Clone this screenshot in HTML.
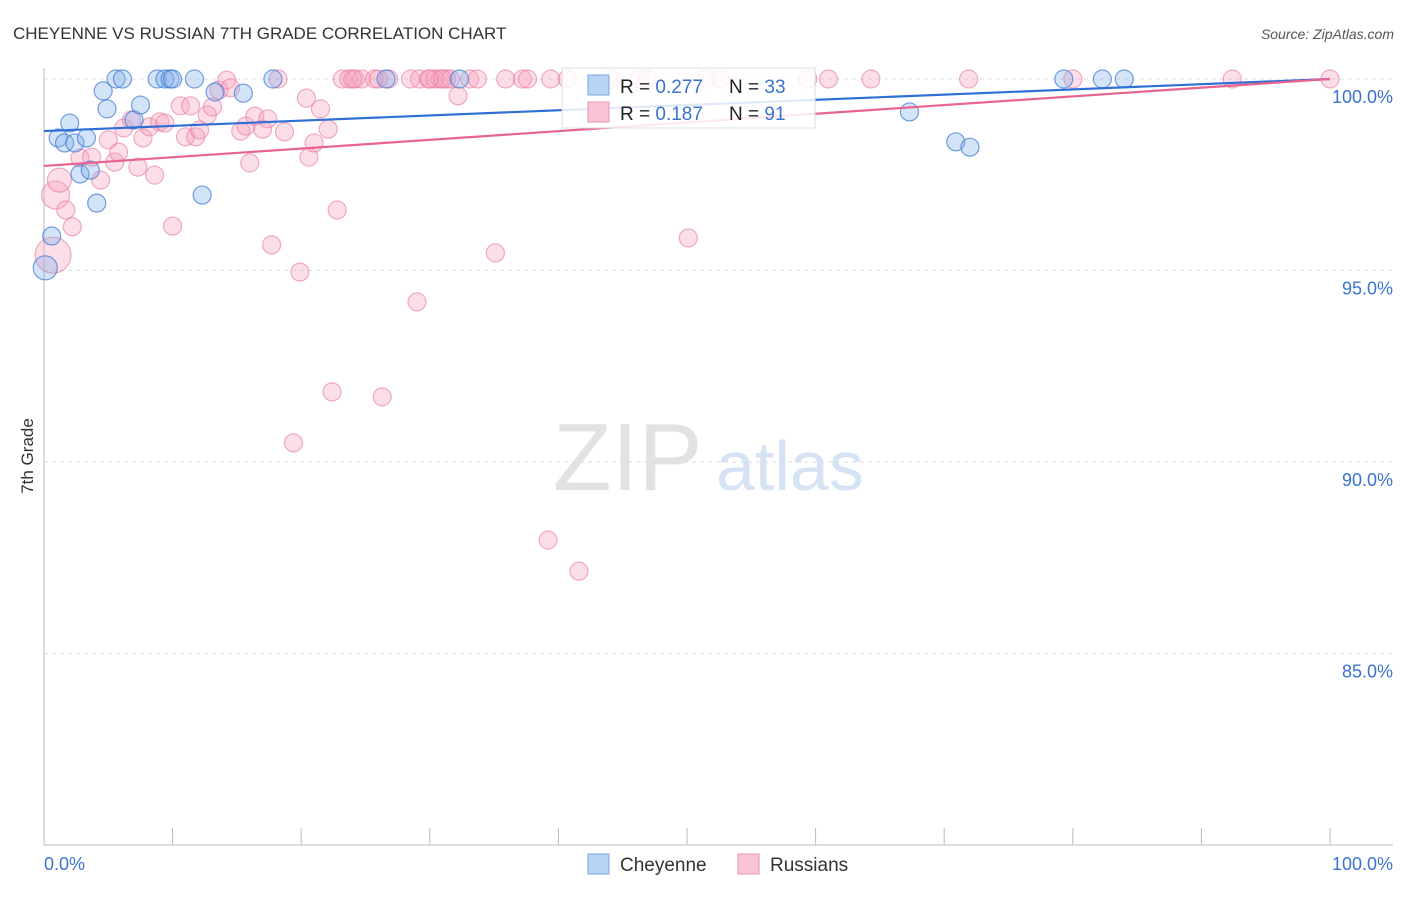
<!DOCTYPE html>
<html><head><meta charset="utf-8"><style>
body{margin:0;background:#fff;font-family:"Liberation Sans",sans-serif}
svg text{font-family:"Liberation Sans",sans-serif}
</style></head><body>
<svg id="c" width="1406" height="892" xmlns="http://www.w3.org/2000/svg">
<text x="13" y="39" font-size="17" fill="#333">CHEYENNE VS RUSSIAN 7TH GRADE CORRELATION CHART</text>
<text x="1394" y="39" font-size="14" fill="#555" text-anchor="end" font-style="italic">Source: ZipAtlas.com</text>
<text transform="translate(33,456) rotate(-90)" font-size="17" fill="#333" text-anchor="middle">7th Grade</text>
<text x="553" y="490" font-size="96" fill="#e2e2e2" font-family="Liberation Serif">ZIP</text>
<text x="716" y="490" font-size="70" fill="#d5e3f5">atlas</text>
<g id="grid"></g><g id="pts"></g><g id="lines"></g>
<g>
<rect x="562" y="68" width="253" height="60" fill="#fff" fill-opacity="0.85" stroke="#ddd"/>
<rect x="588" y="75" width="21" height="20" fill="#b8d3f5" stroke="#7aa7e0"/>
<text x="620" y="93" font-size="19" fill="#222">R = <tspan fill="#3b73d1">0.277</tspan></text>
<text x="729" y="93" font-size="19" fill="#222">N = <tspan fill="#3b73d1">33</tspan></text>
<rect x="588" y="102" width="21" height="20" fill="#f9c5d5" stroke="#eb93b0"/>
<text x="620" y="120" font-size="19" fill="#222">R = <tspan fill="#3b73d1"> 0.187</tspan></text>
<text x="729" y="120" font-size="19" fill="#222">N = <tspan fill="#3b73d1"> 91</tspan></text>
</g>
<g>
<rect x="588" y="854" width="21" height="20" fill="#b8d3f5" stroke="#7aa7e0"/>
<text x="620" y="871" font-size="19" fill="#333">Cheyenne</text>
<rect x="738" y="854" width="21" height="20" fill="#f9c5d5" stroke="#eb93b0"/>
<text x="770" y="871" font-size="19" fill="#333">Russians</text>
</g>
</svg>
<script>
const yTicks=[100,95,90,85];
const yTickLabels=["100.0%","95.0%","90.0%","85.0%"];
const xTickLabels=["0.0%","100.0%"];
const blueX=[0.1,0.6,1.1,1.6,2.0,2.4,2.8,3.3,3.6,4.1,4.6,4.9,5.6,6.1,7.0,7.5,8.8,9.4,9.8,10.0,11.7,12.3,13.3,15.5,17.8,26.6,32.3,67.3,70.9,72.0,79.3,82.3,84.0];
const blueY=[95.07,95.9,98.46,98.33,98.85,98.33,97.52,98.46,97.62,96.76,99.69,99.22,100,100,98.93,99.32,100,100,100,100,100,96.97,99.66,99.63,100,100,100,99.14,98.36,98.22,100,100,100];
const pinkX=[0.7,0.9,1.2,1.7,2.2,2.8,3.7,4.4,5.0,5.5,5.8,6.2,6.8,7.3,7.7,8.2,8.6,9.0,9.4,10.0,10.6,11.0,11.4,11.8,12.1,12.7,13.1,13.6,14.2,14.5,15.3,15.7,16.0,16.4,17.0,17.4,17.7,18.2,18.7,19.4,19.9,20.4,20.6,21.0,21.5,22.1,22.4,22.8,23.2,23.7,24.2,24.7,25.7,26.3,26.8,28.5,29.0,29.2,29.9,30.4,30.8,31.3,31.6,32.2,33.1,33.7,35.1,35.9,37.2,37.6,39.2,39.4,40.7,41.6,44.1,46.3,46.9,50.1,51.5,52.6,59.4,61.0,64.3,71.9,80.0,92.4,100,24.0,26.0,30.0,31.0];
const pinkY=[95.4,96.97,97.36,96.58,96.14,97.94,97.96,97.36,98.41,97.83,98.09,98.72,98.93,97.70,98.46,98.75,97.49,98.88,98.85,96.16,99.30,98.49,99.30,98.49,98.67,99.06,99.27,99.71,99.97,99.77,98.64,98.77,97.81,99.03,98.69,98.96,95.67,100,98.62,90.50,94.96,99.50,97.96,98.33,99.22,98.69,91.83,96.58,100,100,100,100,100,91.70,100,100,94.18,100,100,100,100,100,100,99.56,100,100,95.46,100,100,100,87.96,100,100,87.15,100,100,100,95.85,100,100,100,100,100,100,100,100,100,100,100,100,100];
const pinkR=[18,14,12];
const blueR=[12];
const blueTrend=[98.64,100];
const pinkTrend=[97.73,100];
const X0=44,X1=1330,Y100=79,PPP=38.3;
const sx=v=>X0+(X1-X0)*v/100;
const sy=v=>Y100+(100-v)*PPP;
const NS="http://www.w3.org/2000/svg";
function mk(t,a,p){const e=document.createElementNS(NS,t);for(const k in a)e.setAttribute(k,a[k]);p.appendChild(e);return e;}
const grid=document.getElementById('grid');
yTicks.forEach((t,i)=>{
 const l=mk('line',{x1:44,x2:1393,y1:sy(t),y2:sy(t),stroke:'#ddd','stroke-dasharray':'4,4'},grid);
 
 
 const tx=mk('text',{x:1393,y:sy(t)+24,'font-size':18,fill:'#3b73d1','text-anchor':'end'},grid);
 tx.textContent=yTickLabels[i];
 
 
});
const ax=mk('line',{x1:44,x2:44,y1:68,y2:845,stroke:'#bbb'},grid);


const bx=mk('line',{x1:44,x2:1393,y1:845,y2:845,stroke:'#bbb'},grid);


for(let i=0;i<=10;i++){
 const tk=mk('line',{x1:sx(i*10),x2:sx(i*10),y1:828,y2:845,stroke:'#bbb'},grid);
 
 
}
[[0,'start',44],[100,'end',1393]].forEach((d,i)=>{
 const tx=mk('text',{x:d[2],y:870,'font-size':18,fill:'#3b73d1','text-anchor':d[1]},grid);
 tx.textContent=xTickLabels[i];
 
 
});
const pts=document.getElementById('pts');
pinkX.forEach((x,i)=>{
 const c=mk('circle',{cx:sx(x),cy:sy(pinkY[i]),r:pinkR[i]||9,fill:'rgba(246,160,188,0.35)',stroke:'rgba(232,120,158,0.6)','stroke-width':1.2},pts);
 
 
});
blueX.forEach((x,i)=>{
 const c=mk('circle',{cx:sx(x),cy:sy(blueY[i]),r:blueR[i]||9,fill:'rgba(130,175,235,0.35)',stroke:'rgba(60,120,210,0.7)','stroke-width':1.2},pts);
 
 
});
const lines=document.getElementById('lines');
const bl=mk('line',{x1:sx(0),x2:sx(100),y1:sy(blueTrend[0]),y2:sy(blueTrend[1]),stroke:'#2f6fd6','stroke-width':2.2},lines);


const pl=mk('line',{x1:sx(0),x2:sx(100),y1:sy(pinkTrend[0]),y2:sy(pinkTrend[1]),stroke:'#e8648f','stroke-width':2.2},lines);


</script>
</body></html>
